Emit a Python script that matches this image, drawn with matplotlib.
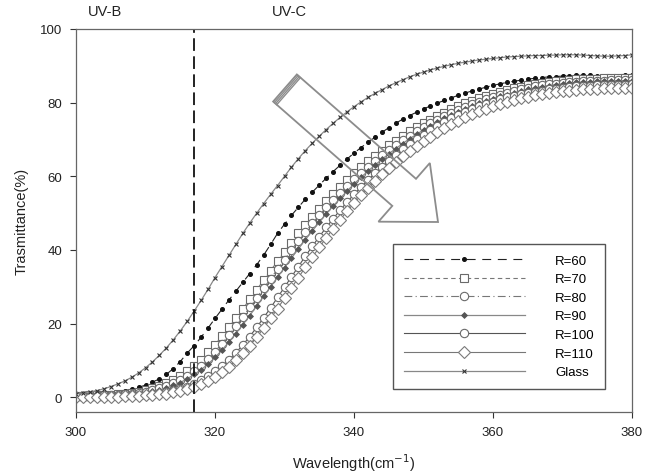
import numpy as np
import matplotlib
matplotlib.use("Agg")
import matplotlib.pyplot as plt
from matplotlib.patches import Polygon

plt.rcParams['font.family'] = ['Liberation Sans', 'DejaVu Sans']

wavelength = list(range(300, 381))

r60 = [0.5, 0.6, 0.7, 0.8, 1.0, 1.2, 1.5, 1.8, 2.2, 2.7,
       3.3, 4.1, 5.0, 6.2, 7.8, 9.7, 12.0, 14.0, 16.3, 18.8,
       21.4, 23.9, 26.4, 28.8, 31.2, 33.6, 36.0, 38.6, 41.5, 44.5,
       47.0, 49.4, 51.6, 53.8, 55.7, 57.6, 59.5, 61.3, 63.0, 64.7,
       66.3, 67.8, 69.2, 70.6, 71.9, 73.2, 74.4, 75.5, 76.5, 77.4,
       78.3, 79.1, 79.9, 80.6, 81.3, 82.0, 82.6, 83.2, 83.7, 84.2,
       84.7, 85.1, 85.5, 85.8, 86.1, 86.4, 86.6, 86.8, 87.0, 87.1,
       87.2, 87.3, 87.4, 87.4, 87.4, 87.3, 87.2, 87.2, 87.3, 87.4, 87.5]

r70 = [0.4, 0.4, 0.5, 0.5, 0.6, 0.7, 0.8, 1.0, 1.2, 1.5,
       1.9, 2.4, 3.0, 3.8, 4.7, 5.8, 7.0, 8.5, 10.2, 12.2,
       14.3, 16.6, 19.0, 21.5, 24.0, 26.6, 29.2, 31.8, 34.4, 37.0,
       39.5, 42.0, 44.5, 46.8, 49.0, 51.2, 53.3, 55.3, 57.2, 59.0,
       60.8, 62.5, 64.1, 65.6, 67.0, 68.4, 69.7, 71.0, 72.2, 73.3,
       74.4, 75.4, 76.4, 77.3, 78.2, 79.0, 79.8, 80.5, 81.2, 81.8,
       82.4, 82.9, 83.4, 83.9, 84.3, 84.7, 85.0, 85.3, 85.6, 85.8,
       86.0, 86.2, 86.3, 86.4, 86.5, 86.5, 86.6, 86.6, 86.6, 86.7, 86.7]

r80 = [0.3, 0.3, 0.4, 0.4, 0.5, 0.6, 0.7, 0.8, 1.0, 1.2,
       1.5, 1.9, 2.4, 3.0, 3.8, 4.7, 5.8, 7.1, 8.6, 10.4,
       12.4, 14.6, 16.9, 19.3, 21.8, 24.4, 27.0, 29.6, 32.2, 34.8,
       37.4, 40.0, 42.5, 44.9, 47.2, 49.4, 51.6, 53.6, 55.6, 57.5,
       59.3, 61.0, 62.6, 64.2, 65.7, 67.1, 68.5, 69.8, 71.0, 72.2,
       73.3, 74.4, 75.4, 76.3, 77.2, 78.1, 78.9, 79.6, 80.3, 81.0,
       81.6, 82.2, 82.7, 83.2, 83.6, 84.0, 84.4, 84.7, 85.0, 85.2,
       85.4, 85.6, 85.7, 85.8, 85.9, 86.0, 86.0, 86.1, 86.1, 86.2, 86.2]

r90 = [0.2, 0.2, 0.3, 0.3, 0.4, 0.5, 0.6, 0.7, 0.8, 1.0,
       1.3, 1.6, 2.0, 2.5, 3.2, 4.0, 5.0, 6.2, 7.5, 9.0,
       10.8, 12.8, 15.0, 17.3, 19.7, 22.2, 24.8, 27.4, 30.0, 32.6,
       35.2, 37.8, 40.3, 42.8, 45.2, 47.5, 49.8, 51.9, 54.0, 56.0,
       57.9, 59.7, 61.4, 63.0, 64.6, 66.1, 67.5, 68.9, 70.2, 71.4,
       72.6, 73.7, 74.7, 75.7, 76.6, 77.5, 78.3, 79.1, 79.8, 80.5,
       81.1, 81.7, 82.2, 82.7, 83.2, 83.6, 84.0, 84.3, 84.6, 84.9,
       85.1, 85.3, 85.5, 85.6, 85.7, 85.8, 85.9, 85.9, 86.0, 86.0, 86.0]

r100 = [0.1, 0.1, 0.2, 0.2, 0.2, 0.3, 0.3, 0.4, 0.5, 0.6,
        0.7, 0.9, 1.1, 1.4, 1.8, 2.3, 2.9, 3.7, 4.6, 5.7,
        7.0, 8.5, 10.2, 12.1, 14.2, 16.5, 19.0, 21.6, 24.3, 27.1,
        29.9, 32.7, 35.5, 38.3, 41.0, 43.6, 46.1, 48.5, 50.8, 53.0,
        55.1, 57.1, 59.0, 60.8, 62.6, 64.2, 65.8, 67.3, 68.7, 70.0,
        71.3, 72.5, 73.6, 74.7, 75.7, 76.6, 77.5, 78.3, 79.0, 79.7,
        80.3, 80.9, 81.4, 81.9, 82.3, 82.7, 83.0, 83.3, 83.6, 83.8,
        84.0, 84.2, 84.4, 84.5, 84.6, 84.7, 84.8, 84.8, 84.9, 84.9, 85.0]

r110 = [0.0, 0.0, 0.1, 0.1, 0.1, 0.2, 0.2, 0.3, 0.3, 0.4,
        0.5, 0.6, 0.8, 1.0, 1.3, 1.7, 2.2, 2.8, 3.5, 4.4,
        5.5, 6.8, 8.3, 10.0, 11.9, 14.0, 16.3, 18.8, 21.4, 24.1,
        26.9, 29.7, 32.5, 35.3, 38.0, 40.7, 43.3, 45.8, 48.2, 50.5,
        52.7, 54.8, 56.8, 58.7, 60.5, 62.2, 63.8, 65.4, 66.9, 68.3,
        69.6, 70.8, 72.0, 73.1, 74.1, 75.1, 76.0, 76.8, 77.6, 78.3,
        79.0, 79.6, 80.2, 80.7, 81.2, 81.6, 82.0, 82.3, 82.6, 82.9,
        83.1, 83.3, 83.5, 83.6, 83.7, 83.8, 83.9, 83.9, 84.0, 84.0, 84.0]

glass = [1.0, 1.2, 1.5, 1.8, 2.3, 2.9, 3.6, 4.4, 5.4, 6.6,
         8.0, 9.6, 11.4, 13.4, 15.6, 18.0, 20.6, 23.4, 26.3, 29.3,
         32.5, 35.5, 38.5, 41.5, 44.5, 47.3, 50.0, 52.6, 55.1, 57.5,
         60.0, 62.5, 64.8, 67.0, 69.0, 70.9, 72.7, 74.4, 76.0, 77.5,
         78.9, 80.2, 81.4, 82.5, 83.5, 84.5, 85.4, 86.2, 87.0, 87.7,
         88.3, 88.9, 89.4, 89.9, 90.3, 90.7, 91.0, 91.3, 91.6, 91.8,
         92.0, 92.2, 92.4, 92.5, 92.6, 92.7, 92.8, 92.8, 92.9, 92.9,
         93.0, 93.0, 93.0, 92.9, 92.8, 92.7, 92.6, 92.6, 92.7, 92.8, 93.0]

labels = ["R=60", "R=70", "R=80", "R=90", "R=100", "R=110", "Glass"]
boundary = 317

fig = plt.figure(figsize=(6.45, 4.77), dpi=100)
ax = fig.add_axes([76/645, 1-413/477, 556/645, 383/477])

ax.plot(wavelength, r60, color="#222222", lw=0.8, ls=(0, (8, 6)),
        marker="o", ms=2.6, mfc="#111111", mec="#111111", label=labels[0])
ax.plot(wavelength, r70, color="#777777", lw=0.8, ls=(0, (4, 3)),
        marker="s", ms=5.5, mfc="white", mec="#6a6a6a", mew=0.8, label=labels[1])
ax.plot(wavelength, r80, color="#777777", lw=0.8, ls=(0, (7, 3, 1, 3)),
        marker="o", ms=6, mfc="white", mec="#6a6a6a", mew=0.8, label=labels[2])
ax.plot(wavelength, r90, color="#888888", lw=0.9, ls="-",
        marker="D", ms=3, mfc="#555555", mec="#555555", mew=0.6, label=labels[3])
ax.plot(wavelength, r100, color="#555555", lw=0.8, ls="-",
        marker="o", ms=6, mfc="white", mec="#6a6a6a", mew=0.8, label=labels[4])
ax.plot(wavelength, r110, color="#777777", lw=0.8, ls="-",
        marker="D", ms=6, mfc="white", mec="#7a7a7a", mew=0.8, label=labels[5])
ax.plot(wavelength, glass, color="#888888", lw=0.9, ls="-",
        marker="x", ms=3, mec="#333333", mew=0.8, label=labels[6])

ax.axvline(boundary, color="#111111", lw=1.3, ls=(0, (7, 3)))

ax.set_xlim(300, 380)
ax.set_ylim(-4, 100)
ax.set_xticks([300, 320, 340, 360, 380])
ax.set_yticks([0, 20, 40, 60, 80, 100])
ax.tick_params(labelsize=9.5, length=4, width=0.8, colors="#333333", labelcolor="#222222", pad=6)
for s in ax.spines.values():
    s.set_color("#666666")
    s.set_linewidth(0.9)

ax.set_xlabel("Wavelength(cm$^{-1}$)", fontsize=10.5, labelpad=10, color="#222222")
ax.set_ylabel("Trasmittance(%)", fontsize=10.5, labelpad=8, color="#222222")

fig.text(105/645, 1-12/477, "UV-B", ha="center", va="center", fontsize=10.5, color="#222222")
fig.text(289/645, 1-12/477, "UV-C", ha="center", va="center", fontsize=10.5, color="#222222")

leg = ax.legend(loc="upper left", bbox_to_anchor=(393/645, 1-245/477), bbox_transform=fig.transFigure,
                borderaxespad=0, fontsize=9.5, handlelength=9.2, handletextpad=2.3, labelspacing=0.48,
                borderpad=0.8, numpoints=1, fancybox=False, framealpha=1, edgecolor="#555555")
leg.get_frame().set_linewidth(1.0)

# big outlined arrow, pixel coordinates
c0 = np.array([285.0, 89.0])
tip = np.array([438.0, 223.0])
d = (tip - c0) / np.linalg.norm(tip - c0)
n = np.array([d[1], -d[0]])
w, hw, hl = 18, 39, 45
base = tip - hl * d
pts = [c0 + w*n, base + w*n, base + hw*n, tip, base - hw*n, base - w*n, c0 - w*n]
pts = [(p[0]/645, 1 - p[1]/477) for p in pts]
fig.patches.append(Polygon(pts, closed=True, fill=False, edgecolor="#8c8c8c", lw=1.3,
                           transform=fig.transFigure))
for off in [1.6, 3.2, 4.8]:
    a = c0 + w*n + off*d
    b = c0 - w*n + off*d
    fig.lines.append(plt.Line2D([a[0]/645, b[0]/645], [1-a[1]/477, 1-b[1]/477],
                                color="#8c8c8c", lw=1.0, transform=fig.transFigure))

fig.savefig("out.png", dpi=100)
